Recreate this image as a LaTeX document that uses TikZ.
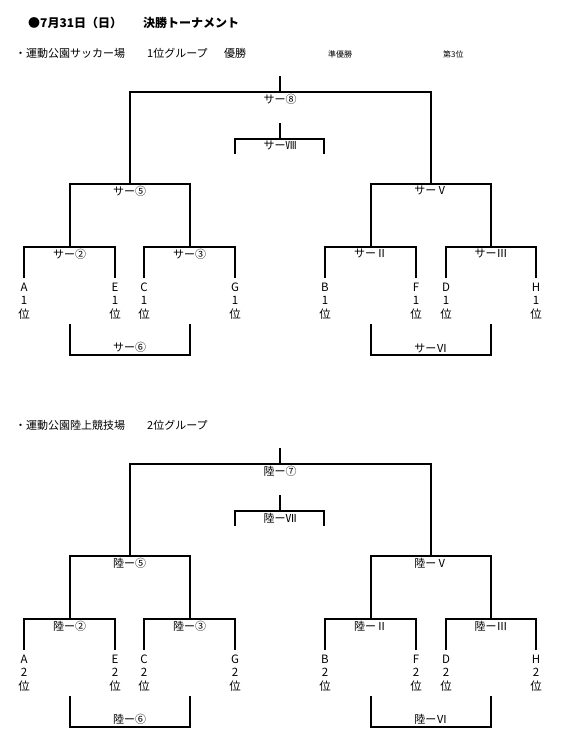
\documentclass[tikz,border=0pt]{standalone}
\usepackage{fontspec}
\newfontfamily\jpfont{Noto Sans CJK JP}
\usetikzlibrary{positioning}

\begin{document}
\begin{tikzpicture}[
  x=1pt, y=-1pt,
  every node/.style={inner sep=0pt, font=\jpfont\fontsize{11}{13}\selectfont},
  title/.style={anchor=west, font=\jpfont\bfseries\fontsize{12}{14}\selectfont},
  venue/.style={anchor=west, font=\jpfont\fontsize{11}{13}\selectfont},
  note/.style={anchor=west, font=\jpfont\fontsize{8}{10}\selectfont},
  team/.style={align=center, font=\jpfont\fontsize{11.5}{13.5}\selectfont},
  lbl/.style={font=\jpfont\fontsize{11}{13}\selectfont},
  bracket/.style={line width=2pt}
]
\useasboundingbox (0,0) rectangle (565,747);

\node[title] (date) at (28,23) {●7月31日（日）};
\node[title] (final) at (143,23) {決勝トーナメント};

% サッカー場 (1位グループ)
\node[venue] (s-venue) at (15,53) {・運動公園サッカー場};
\node[venue] (s-group) at (147,53) {1位グループ};
\node[venue] (s-win-note) at (224,53) {優勝};
\node[note] (s-second) at (328,54) {準優勝};
\node[note] (s-third) at (443,54) {第3位};

\coordinate (s-a) at (24,278);
\coordinate (s-e) at (115,278);
\coordinate (s-c) at (144,278);
\coordinate (s-g) at (235,278);
\coordinate (s-b) at (325,278);
\coordinate (s-f) at (416,278);
\coordinate (s-d) at (446,278);
\coordinate (s-h) at (536,278);
\coordinate (s-j2) at (69.5,247);
\coordinate (s-j3) at (189.5,247);
\coordinate (s-jII) at (370.5,247);
\coordinate (s-jIII) at (491,247);
\coordinate (s-j5) at (129.5,184);
\coordinate (s-jV) at (430.75,184);
\coordinate (s-j8) at (280,92);
\coordinate (s-win) at (280,76);
\coordinate (s-m8) at (280,139);
\coordinate (s-t8) at (280,123);
\coordinate (s-t8l) at (235,154);
\coordinate (s-t8r) at (324,154);
\coordinate (s-t6l) at (69.5,324);
\coordinate (s-t6r) at (189.5,324);
\coordinate (s-b6) at (129.5,355);
\coordinate (s-tVIl) at (370.5,324);
\coordinate (s-tVIr) at (491,324);
\coordinate (s-bVI) at (430.75,355);

\draw[bracket] (s-a) |- (s-j2) -| (s-e);
\draw[bracket] (s-c) |- (s-j3) -| (s-g);
\draw[bracket] (s-b) |- (s-jII) -| (s-f);
\draw[bracket] (s-d) |- (s-jIII) -| (s-h);
\draw[bracket] (s-j2) |- (s-j5) -| (s-j3);
\draw[bracket] (s-jII) |- (s-jV) -| (s-jIII);
\draw[bracket] (s-j5) |- (s-j8) -| (s-jV);
\draw[bracket] (s-j8) -- (s-win);
\draw[bracket] (s-t8l) |- (s-m8) -| (s-t8r);
\draw[bracket] (s-m8) -- (s-t8);
\draw[bracket] (s-t6l) |- (s-b6) -| (s-t6r);
\draw[bracket] (s-tVIl) |- (s-bVI) -| (s-tVIr);

\node[lbl, below=2pt of s-j2] (s-l2) {サー②};
\node[lbl, below=2pt of s-j3] (s-l3) {サー③};
\node[lbl, below=2pt of s-jII] (s-lII) {サーⅡ};
\node[lbl, below=2pt of s-jIII] (s-lIII) {サーⅢ};
\node[lbl, below=2pt of s-j5] (s-l5) {サー⑤};
\node[lbl, below=2pt of s-jV] (s-lV) {サーⅤ};
\node[lbl, below=2pt of s-j8] (s-l8) {サー⑧};
\node[lbl, below=2pt of s-m8] (s-lVIII) {サーⅧ};
\node[lbl, above=2pt of s-b6] (s-l6) {サー⑥};
\node[lbl, above=2pt of s-bVI] (s-lVI) {サーⅥ};

\node[team, below=4.5pt of s-a] (s-ta) {A\\1\\位};
\node[team, below=4.5pt of s-e] (s-te) {E\\1\\位};
\node[team, below=4.5pt of s-c] (s-tc) {C\\1\\位};
\node[team, below=4.5pt of s-g] (s-tg) {G\\1\\位};
\node[team, below=4.5pt of s-b] (s-tb) {B\\1\\位};
\node[team, below=4.5pt of s-f] (s-tf) {F\\1\\位};
\node[team, below=4.5pt of s-d] (s-td) {D\\1\\位};
\node[team, below=4.5pt of s-h] (s-th) {H\\1\\位};

% 陸上競技場 (2位グループ)
\begin{scope}[yshift=-372pt]
\node[venue] (r-venue) at (15,53) {・運動公園陸上競技場};
\node[venue] (r-group) at (147,53) {2位グループ};

\coordinate (r-a) at (24,278);
\coordinate (r-e) at (115,278);
\coordinate (r-c) at (144,278);
\coordinate (r-g) at (235,278);
\coordinate (r-b) at (325,278);
\coordinate (r-f) at (416,278);
\coordinate (r-d) at (446,278);
\coordinate (r-h) at (536,278);
\coordinate (r-j2) at (69.5,247);
\coordinate (r-j3) at (189.5,247);
\coordinate (r-jII) at (370.5,247);
\coordinate (r-jIII) at (491,247);
\coordinate (r-j5) at (129.5,184);
\coordinate (r-jV) at (430.75,184);
\coordinate (r-j7) at (280,92);
\coordinate (r-win) at (280,76);
\coordinate (r-m7) at (280,139);
\coordinate (r-t7) at (280,123);
\coordinate (r-t7l) at (235,154);
\coordinate (r-t7r) at (324,154);
\coordinate (r-t6l) at (69.5,324);
\coordinate (r-t6r) at (189.5,324);
\coordinate (r-b6) at (129.5,355);
\coordinate (r-tVIl) at (370.5,324);
\coordinate (r-tVIr) at (491,324);
\coordinate (r-bVI) at (430.75,355);

\draw[bracket] (r-a) |- (r-j2) -| (r-e);
\draw[bracket] (r-c) |- (r-j3) -| (r-g);
\draw[bracket] (r-b) |- (r-jII) -| (r-f);
\draw[bracket] (r-d) |- (r-jIII) -| (r-h);
\draw[bracket] (r-j2) |- (r-j5) -| (r-j3);
\draw[bracket] (r-jII) |- (r-jV) -| (r-jIII);
\draw[bracket] (r-j5) |- (r-j7) -| (r-jV);
\draw[bracket] (r-j7) -- (r-win);
\draw[bracket] (r-t7l) |- (r-m7) -| (r-t7r);
\draw[bracket] (r-m7) -- (r-t7);
\draw[bracket] (r-t6l) |- (r-b6) -| (r-t6r);
\draw[bracket] (r-tVIl) |- (r-bVI) -| (r-tVIr);

\node[lbl, below=2pt of r-j2] (r-l2) {陸ー②};
\node[lbl, below=2pt of r-j3] (r-l3) {陸ー③};
\node[lbl, below=2pt of r-jII] (r-lII) {陸ーⅡ};
\node[lbl, below=2pt of r-jIII] (r-lIII) {陸ーⅢ};
\node[lbl, below=2pt of r-j5] (r-l5) {陸ー⑤};
\node[lbl, below=2pt of r-jV] (r-lV) {陸ーⅤ};
\node[lbl, below=2pt of r-j7] (r-l7) {陸ー⑦};
\node[lbl, below=2pt of r-m7] (r-lVII) {陸ーⅦ};
\node[lbl, above=2pt of r-b6] (r-l6) {陸ー⑥};
\node[lbl, above=2pt of r-bVI] (r-lVI) {陸ーⅥ};

\node[team, below=4.5pt of r-a] (r-ta) {A\\2\\位};
\node[team, below=4.5pt of r-e] (r-te) {E\\2\\位};
\node[team, below=4.5pt of r-c] (r-tc) {C\\2\\位};
\node[team, below=4.5pt of r-g] (r-tg) {G\\2\\位};
\node[team, below=4.5pt of r-b] (r-tb) {B\\2\\位};
\node[team, below=4.5pt of r-f] (r-tf) {F\\2\\位};
\node[team, below=4.5pt of r-d] (r-td) {D\\2\\位};
\node[team, below=4.5pt of r-h] (r-th) {H\\2\\位};
\end{scope}

\end{tikzpicture}
\end{document}
